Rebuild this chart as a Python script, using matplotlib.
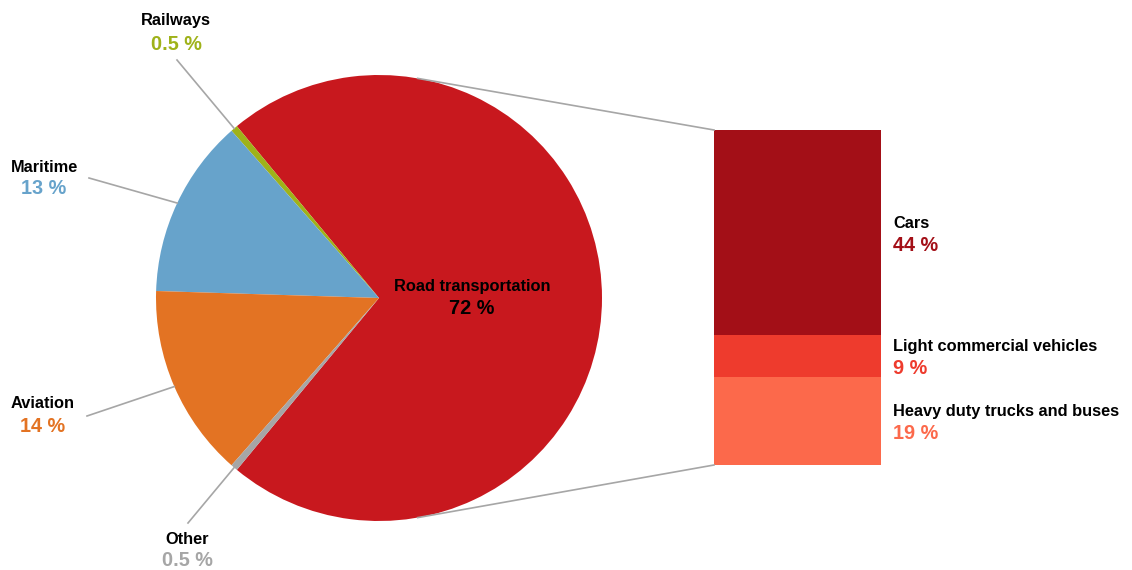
import matplotlib.pyplot as plt
import numpy as np

plt.rcParams['font.family'] = ['Liberation Sans', 'DejaVu Sans']

# transport emission shares (%)
sectors = ['Road transportation', 'Railways', 'Maritime', 'Aviation', 'Other']
shares = [72, 0.5, 13, 14, 0.5]
sector_colors = ['#C8181E', '#9FB219', '#67A3CB', '#E37323', '#A6A6A6']

# breakdown of road transportation (%)
road_parts = ['Heavy duty trucks and buses', 'Light commercial vehicles', 'Cars']
road_shares = [19, 9, 44]
road_colors = ['#FC694B', '#EE3B2D', '#A30F17']

W, H = 1132, 570
fig = plt.figure(figsize=(W / 100, H / 100), dpi=100)
ax = fig.add_axes([0, 0, 1, 1])

cx, cy, r = 379, H - 298, 223
start = -360 * shares[0] / 100 / 2
ax.pie(shares, colors=sector_colors, startangle=start, counterclock=True,
       center=(cx, cy), radius=r, wedgeprops=dict(linewidth=0))

# stacked bar for the road breakdown
bar_x, bar_w, bar_y0 = 714, 167, H - 465
scale = 335 / sum(road_shares)
bottoms = bar_y0 + np.concatenate([[0], np.cumsum(road_shares)[:-1]]) * scale
ax.bar(bar_x, np.array(road_shares) * scale, width=bar_w, bottom=bottoms,
       color=road_colors, align='edge', linewidth=0)

# lines joining the pie to the bar
grey = '#A6A6A6'
a = np.deg2rad(80)
top_bar = bar_y0 + sum(road_shares) * scale
ax.plot([cx + r * np.cos(a), bar_x], [cy + r * np.sin(a), top_bar], color=grey, lw=1.2)
ax.plot([cx + r * np.cos(a), bar_x], [cy - r * np.sin(a), bar_y0], color=grey, lw=1.2)

name_kw = dict(fontsize=11.8, fontweight='bold', color='black', ha='center', va='center')
pct_kw = dict(fontsize=14.3, fontweight='bold', ha='center', va='center')

# outer labels: (label centre x, name y, pct y, leader end x, leader end y)
outer = {
    'Railways': (176, 21, 44, 177, 60),
    'Maritime': (44, 167, 189, 89, 178),
    'Aviation': (43, 404, 427, 87, 416),
    'Other': (187, 539, 561, 188, 523),
}
theta = start
for name, val, col in zip(sectors, shares, sector_colors):
    span = 360 * val / 100
    mid = np.deg2rad(theta + span / 2)
    theta += span
    if name not in outer:
        continue
    lx, ny, py, ex, ey = outer[name]
    px, py_edge = cx + r * np.cos(mid), cy + r * np.sin(mid)
    ax.plot([ex, px], [H - ey, py_edge], color=grey, lw=1.2)
    ax.text(lx, H - ny, name, **name_kw)
    ax.text(lx, H - py, f'{val:g} %', color=col, **pct_kw)

ax.text(472, H - 286, sectors[0], **name_kw)
ax.text(472, H - 309, f'{shares[0]:g} %', color='black', **pct_kw)

for name, val, col, b in zip(road_parts, road_shares, road_colors, bottoms):
    mid = b + val * scale / 2
    ax.text(893, mid + 9, name, **{**name_kw, 'ha': 'left'})
    ax.text(893, mid - 13, f'{val} %', color=col, **{**pct_kw, 'ha': 'left'})

ax.set_xlim(0, W)
ax.set_ylim(0, H)
ax.set_aspect('equal')
ax.axis('off')
fig.savefig('out.png', dpi=100)
